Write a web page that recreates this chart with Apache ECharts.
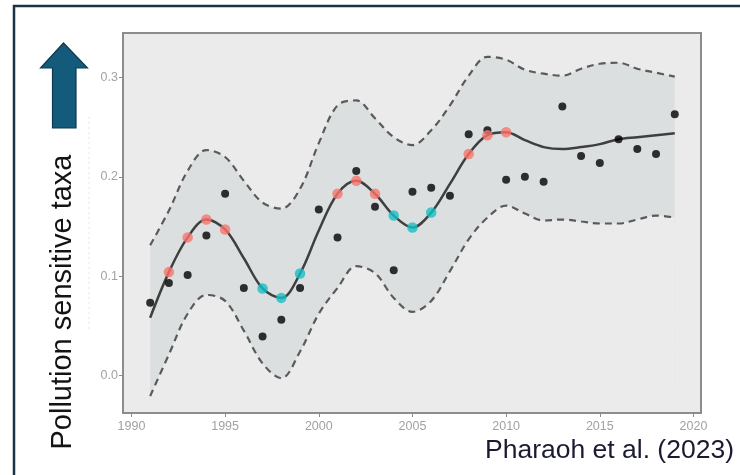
<!DOCTYPE html>
<html>
<head>
<meta charset="utf-8">
<script src="https://cdn.jsdelivr.net/npm/echarts@6/dist/echarts.min.js"></script>
<style>
html,body{margin:0;padding:0;background:#ffffff;}
#chart{width:740px;height:475px;}
</style>
</head>
<body>
<div id="chart"></div>
<script>
// ---- data ----
var years = [1991,1992,1993,1994,1995,1996,1997,1998,1999,2000,2001,2002,2003,2004,2005,2006,2007,2008,2009,2010,2011,2012,2013,2014,2015,2016,2017,2018,2019];
var observed = [0.073,0.093,0.101,0.141,0.183,0.088,0.039,0.056,0.088,0.167,0.139,0.206,0.170,0.106,0.185,0.189,0.181,0.243,0.247,0.197,0.200,0.195,0.271,0.221,0.214,0.238,0.228,0.223,0.263];
var fitted = [0.058,0.104,0.139,0.157,0.147,0.118,0.0875,0.078,0.1026,0.146,0.183,0.196,0.183,0.161,0.149,0.164,0.193,0.223,0.242,0.245,0.237,0.230,0.228,0.230,0.233,0.238,0.240,0.242,0.244];
var upperCI = [0.131,0.166,0.206,0.227,0.220,0.196,0.174,0.168,0.188,0.234,0.272,0.277,0.259,0.240,0.232,0.247,0.272,0.302,0.321,0.318,0.308,0.304,0.302,0.309,0.314,0.315,0.309,0.305,0.301];
var lowerCI = [-0.021,0.021,0.062,0.081,0.075,0.045,0.012,-0.003,0.024,0.062,0.088,0.110,0.103,0.078,0.064,0.075,0.105,0.137,0.159,0.171,0.163,0.156,0.157,0.155,0.153,0.153,0.157,0.161,0.159];
var increaseYears = [1992,1993,1994,1995,2001,2002,2003,2008,2009,2010];
var decreaseYears = [1997,1998,1999,2004,2005,2006];
var yTickLabels = ['0.0','0.1','0.2','0.3'];
var xTickLabels = ['1990','1995','2000','2005','2010','2015','2020'];
var yLabel = 'Pollution sensitive taxa';
var sourceText = 'Pharaoh et al. (2023)';

// ---- build series data ----
function pairs(vals){ return years.map(function(y,i){ return [y, vals[i]]; }); }
function pick(list){ return list.map(function(y){ return [y, fitted[years.indexOf(y)]]; }); }

var chart = echarts.init(document.getElementById('chart'), null, {renderer:'canvas'});
var font = 'Liberation Sans, Arial, sans-serif';
var smoothness = 0.35;
var panelColor = '#ebebeb';
var G = {left: 123, top: 33, right: 39, bottom: 62};

chart.setOption({
  animation: false,
  grid: {
    left: G.left, top: G.top, right: G.right, bottom: G.bottom,
    show: true, backgroundColor: panelColor, borderWidth: 0
  },
  xAxis: {
    type: 'value', min: 1989.55, max: 2020.4, splitNumber: 6,
    axisLine: {show: false, onZero: false},
    axisTick: {show: true, length: 4, lineStyle: {color: '#8c8c8c', width: 1}},
    splitLine: {show: false},
    axisLabel: {
      color: '#a2a2a2', fontSize: 12.5, fontFamily: font, margin: 7,
      showMinLabel: false, showMaxLabel: false,
      formatter: function(v){ var s = String(Math.round(v)); return (Math.abs(v-Math.round(v))<1e-6 && xTickLabels.indexOf(s)>=0) ? s : ''; }
    }
  },
  yAxis: {
    type: 'value', min: -0.038, max: 0.345, splitNumber: 4,
    axisLine: {show: false, onZero: false},
    axisTick: {show: true, length: 4, lineStyle: {color: '#8c8c8c', width: 1}},
    splitLine: {show: false},
    axisLabel: {
      color: '#a2a2a2', fontSize: 12.5, fontFamily: font, margin: 5,
      showMinLabel: false, showMaxLabel: false,
      formatter: function(v){ var s = v.toFixed(1); return (Math.abs(v*10-Math.round(v*10))<1e-6 && yTickLabels.indexOf(s)>=0) ? s : ''; }
    }
  },
  series: [
    {
      name: 'upper', type: 'line', data: pairs(upperCI),
      smooth: smoothness, symbol: 'none', z: 1,
      lineStyle: {color: '#5a5a5a', width: 2.2, type: [7,5]},
      areaStyle: {color: '#dcdfe0', opacity: 1, origin: 'start'}
    },
    {
      name: 'lower', type: 'line', data: pairs(lowerCI),
      smooth: smoothness, symbol: 'none', z: 1,
      lineStyle: {color: '#5a5a5a', width: 2.2, type: [7,5]},
      areaStyle: {color: panelColor, opacity: 1, origin: 'start'}
    },
    {
      name: 'fit', type: 'line', data: pairs(fitted), smooth: smoothness, symbol: 'none', z: 2,
      lineStyle: {color: '#3f3f3f', width: 2.5}
    },
    {
      name: 'observed', type: 'scatter', data: pairs(observed), symbolSize: 8, z: 3,
      itemStyle: {color: '#000000'}
    },
    {
      name: 'increase', type: 'scatter', data: pick(increaseYears), symbolSize: 10.5, z: 4,
      itemStyle: {color: '#f8766d'}
    },
    {
      name: 'decrease', type: 'scatter', data: pick(decreaseYears), symbolSize: 10.5, z: 4,
      itemStyle: {color: '#16bfc6'}
    }
  ],
  graphic: [
    {type: 'rect', z: 20, shape: {x: G.left, y: G.top, width: 740 - G.left - G.right, height: 475 - G.top - G.bottom},
     style: {fill: 'none', stroke: '#8c8c8c', lineWidth: 2}},
    {type: 'rect', shape: {x: 14, y: 6, width: 800, height: 520}, z: 0,
     style: {fill: 'none', stroke: '#1b3444', lineWidth: 2.5}},
    {type: 'polygon', z: 10,
     shape: {points: [[63.5,43],[87.5,68],[76,68],[76,128],[52.5,128],[52.5,68],[40.5,68]]},
     style: {fill: '#145a7b', stroke: '#0d3a50', lineWidth: 1.2}},
    {type: 'line', z: 10, shape: {x1: 89, y1: 117, x2: 89, y2: 330},
     style: {stroke: '#d6e8f2', lineWidth: 1, lineDash: [2,3]}},
    {type: 'text', z: 10, x: 63, y: 302, rotation: Math.PI/2,
     style: {text: yLabel, font: '29px ' + font, fill: '#141414', textAlign: 'center', textVerticalAlign: 'middle'}},
    {type: 'text', z: 10, x: 485, y: 451,
     style: {text: sourceText, font: '26.5px ' + font, fill: '#1a1a30', textAlign: 'left', textVerticalAlign: 'middle'}}
  ]
});
</script>
</body>
</html>
